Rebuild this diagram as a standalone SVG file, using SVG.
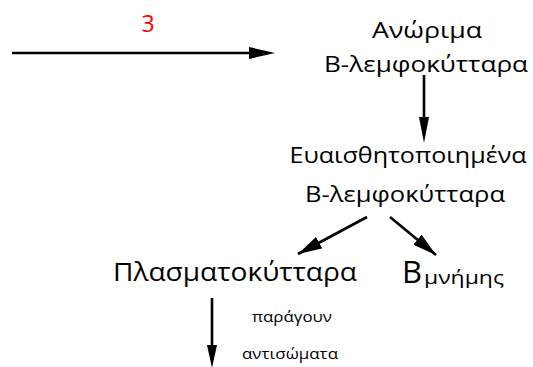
<svg xmlns="http://www.w3.org/2000/svg" width="533" height="367" viewBox="0 0 533 367">
  <style>
    text { font-family: "Open Sans", "DejaVu Sans", sans-serif; fill: #000; }
    .lbl { font-size: 21px; }
    .big { font-size: 25px; }
    .small { font-size: 14px; }
    .num { font-size: 23px; fill: #ff0000; }
    .edge { stroke: #000; stroke-width: 2.6; fill: none; }
  </style>
  <defs>
    <marker id="head" markerUnits="userSpaceOnUse" markerWidth="24" markerHeight="13" viewBox="0 0 24 13" refX="24" refY="6.5" orient="auto">
      <path d="M0,0 L24,6.5 L0,13 Z" fill="#000"/>
    </marker>
  </defs>

  <g id="connectors">
    <line class="edge" x1="12" y1="53" x2="257" y2="53"/>
    <path d="M249,47 L275,53 L249,59 Z" fill="#000"/>
    <line class="edge" x1="424" y1="75" x2="424" y2="122"/>
    <path d="M419,117 L424,143 L429,117 Z" fill="#000"/>
    <line class="edge" x1="367" y1="217" x2="298" y2="254" marker-end="url(#head)"/>
    <line class="edge" x1="390" y1="217" x2="436" y2="255" marker-end="url(#head)"/>
    <line class="edge" x1="212" y1="298" x2="212" y2="350"/>
    <path d="M207,345 L212,368 L217,345 Z" fill="#000"/>
  </g>

  <g id="label-3">
    <text class="num" x="148" y="32" text-anchor="middle">3</text>
  </g>
  <g id="node-immature">
    <text class="lbl" x="427" y="38" text-anchor="middle" textLength="110" lengthAdjust="spacingAndGlyphs">Ανώριμα</text>
    <text class="lbl" x="426" y="72" text-anchor="middle" textLength="204" lengthAdjust="spacingAndGlyphs">Β-λεμφοκύτταρα</text>
  </g>
  <g id="node-sensitized">
    <text class="lbl" x="408" y="163" text-anchor="middle" textLength="237" lengthAdjust="spacingAndGlyphs">Ευαισθητοποιημένα</text>
    <text class="lbl" x="405" y="202" text-anchor="middle" textLength="200" lengthAdjust="spacingAndGlyphs">Β-λεμφοκύτταρα</text>
  </g>
  <g id="node-plasma">
    <text class="big" x="113" y="281" textLength="244" lengthAdjust="spacingAndGlyphs">Πλασματοκύτταρα</text>
  </g>
  <g id="node-memory">
    <text x="402" y="283" style="font-size:31px">Β</text>
    <text x="424" y="284" style="font-size:18px" textLength="80" lengthAdjust="spacingAndGlyphs">μνήμης</text>
  </g>
  <g id="label-produce">
    <text class="small" x="292" y="322" text-anchor="middle" textLength="80" lengthAdjust="spacingAndGlyphs">παράγουν</text>
    <text class="small" x="290" y="359" text-anchor="middle" textLength="96" lengthAdjust="spacingAndGlyphs">αντισώματα</text>
  </g>
</svg>
